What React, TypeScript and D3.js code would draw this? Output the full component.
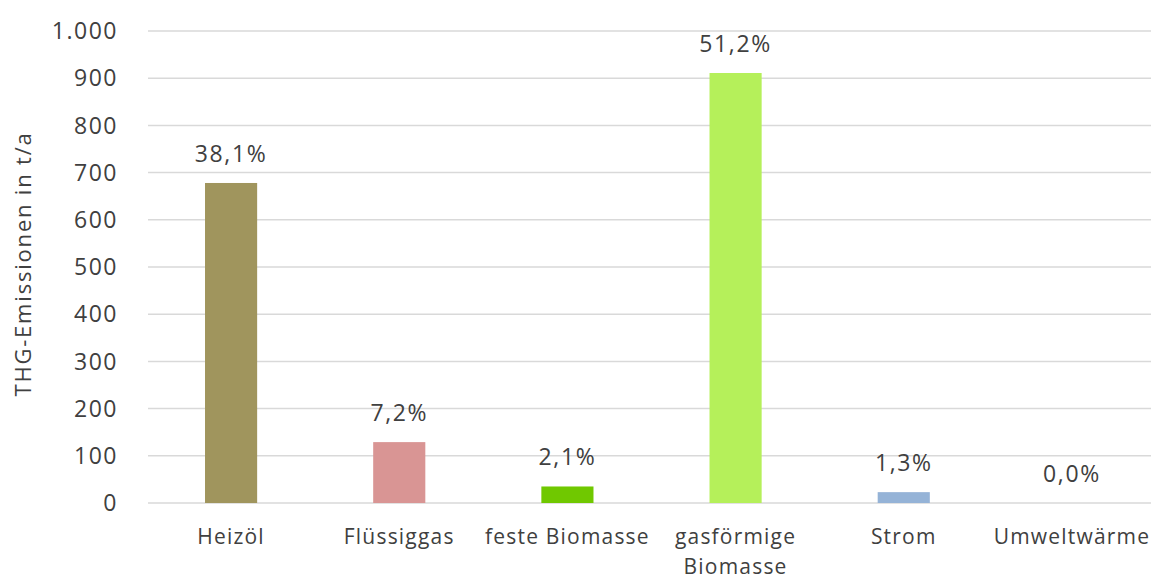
import React from "react";
import * as d3 from "d3";

const categories = ["Heizöl", "Flüssiggas", "feste Biomasse", "gasförmige Biomasse", "Strom", "Umweltwärme"];
const categoryLines = [["Heizöl"], ["Flüssiggas"], ["feste Biomasse"], ["gasförmige", "Biomasse"], ["Strom"], ["Umweltwärme"]];
const values = [678, 129, 35, 911, 23, 0];
const shares = ["38,1%", "7,2%", "2,1%", "51,2%", "1,3%", "0,0%"];
const colors = ["#A0955D", "#D99594", "#70C800", "#B5F05A", "#95B3D7", "#C0C0C0"];
const yTicks = [0, 100, 200, 300, 400, 500, 600, 700, 800, 900, 1000];

const W = 1151;
const H = 579;
const FONT = "'Open Sans', sans-serif";
const TXT = "#404040";

export default function App() {
  const y = d3.scaleLinear().domain([0, 1000]).range([503, 31]);
  const x = d3.scaleBand<string>().domain(categories).range([147, 1156]).paddingInner(0.69).paddingOuter(0.345);
  const fmt = (v: number) => d3.format(",")(v).replace(/,/g, ".");
  return (
    <svg width={W} height={H} style={{ position: "absolute", left: 0, top: 0, background: "#fff" }}>
      {yTicks.map((t) => (
        <g key={t}>
          <line x1={148} x2={W} y1={y(t)} y2={y(t)} stroke="#D9D9D9" strokeWidth={1.5} />
          <text x={118} y={y(t)} dy="0.36em" textAnchor="end" fontFamily={FONT} fontSize={23} letterSpacing={1.5} fill={TXT}>
            {fmt(t)}
          </text>
        </g>
      ))}
      {categories.map((c, i) => {
        const bx = x(c)!;
        const bw = x.bandwidth();
        return (
          <g key={c}>
            {values[i] > 0 && (
              <rect x={bx} y={y(values[i])} width={bw} height={y(0) - y(values[i])} fill={colors[i]} />
            )}
            <text x={bx + bw / 2} y={y(values[i]) - 21} textAnchor="middle" fontFamily={FONT} fontSize={23} letterSpacing={1.6} fill={TXT}>
              {shares[i]}
            </text>
            {categoryLines[i].map((ln, j) => (
              <text key={j} x={bx + bw / 2} y={544 + j * 30} textAnchor="middle" fontFamily={FONT} fontSize={21} letterSpacing={1.2} fill={TXT}>
                {ln}
              </text>
            ))}
          </g>
        );
      })}
      <text transform={`translate(31,264) rotate(-90)`} textAnchor="middle" fontFamily={FONT} fontSize={22} letterSpacing={1.8} fill={TXT}>
        THG-Emissionen in t/a
      </text>
    </svg>
  );
}
